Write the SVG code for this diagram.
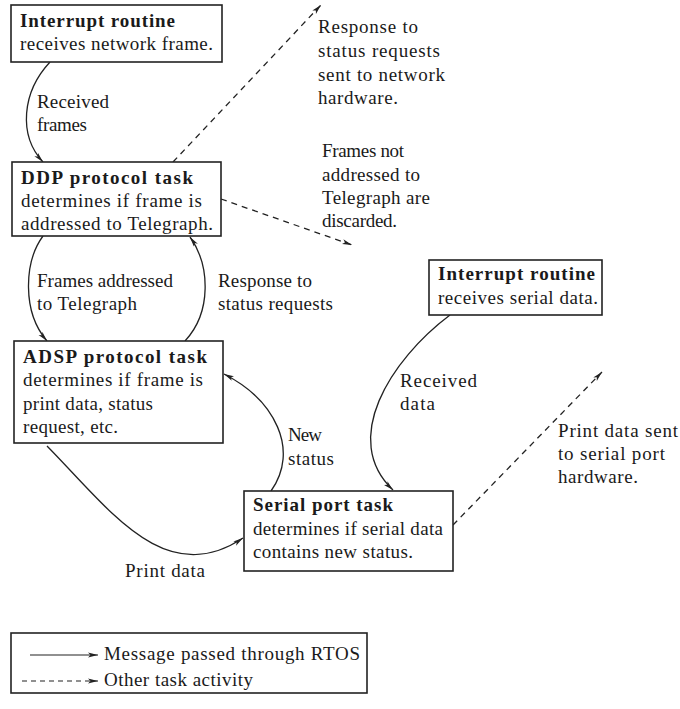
<svg xmlns="http://www.w3.org/2000/svg" width="680" height="709" viewBox="0 0 680 709" font-family="Liberation Serif, DejaVu Serif, serif">
  <style>
    text { font-size: 19px; fill: #1a1a1a; }
    .lbl { font-size: 19px; }
    .b { font-weight: bold; font-size: 19px; }
    .box { fill: #ffffff; stroke: #222; stroke-width: 1.6; }
    .msg { fill: none; stroke: #222; stroke-width: 1.3; marker-end: url(#ah); }
    .act { fill: none; stroke: #222; stroke-width: 1.3; stroke-dasharray: 6 5; marker-end: url(#ah); }
  </style>
  <defs>
    <marker id="ah" viewBox="0 0 10 6" refX="10" refY="3" markerWidth="10" markerHeight="6" markerUnits="userSpaceOnUse" orient="auto">
      <path d="M0,0.5 L10,3 L0,5.5 L2.5,3 Z" fill="#222"/>
    </marker>
  </defs>
  <rect width="680" height="709" fill="#ffffff"/>

  <!-- connectors -->
  <g id="connectors">
    <path class="msg" d="M50,62 C22,92 18,135 43,162"/>
    <path class="act" d="M173,162 L321,5"/>
    <path class="act" d="M221,199 L352,245"/>
    <path class="msg" d="M43,236 C24,262 22,312 47,341"/>
    <path class="msg" d="M185,341 C212,312 210,265 190,237"/>
    <path class="msg" d="M271,491 C300,450 275,400 224,374"/>
    <path class="msg" d="M47,446 C110,510 165,590 243,538"/>
    <path class="msg" d="M450,315 C390,360 340,440 393,490"/>
    <path class="act" d="M453,525 L602,372"/>
  </g>

  <!-- connector labels -->
  <g id="labels">
    <text class="lbl" x="37" y="108" textLength="72">Received</text>
    <text class="lbl" x="37" y="131" textLength="50">frames</text>
    <text class="lbl" x="318" y="33" textLength="100">Response to</text>
    <text class="lbl" x="318" y="57" textLength="122">status requests</text>
    <text class="lbl" x="318" y="81" textLength="127">sent to network</text>
    <text class="lbl" x="318" y="104" textLength="80">hardware.</text>
    <text class="lbl" x="322" y="157" textLength="82">Frames not</text>
    <text class="lbl" x="322" y="181" textLength="98">addressed to</text>
    <text class="lbl" x="322" y="204" textLength="108">Telegraph are</text>
    <text class="lbl" x="322" y="227" textLength="75">discarded.</text>
    <text class="lbl" x="37" y="287" textLength="136">Frames addressed</text>
    <text class="lbl" x="37" y="310" textLength="100">to Telegraph</text>
    <text class="lbl" x="218" y="287" textLength="94">Response to</text>
    <text class="lbl" x="218" y="310" textLength="115">status requests</text>
    <text class="lbl" x="288" y="441" textLength="34">New</text>
    <text class="lbl" x="288" y="465" textLength="46">status</text>
    <text class="lbl" x="400" y="387" textLength="77">Received</text>
    <text class="lbl" x="400" y="410" textLength="35">data</text>
    <text class="lbl" x="558" y="437" textLength="120">Print data sent</text>
    <text class="lbl" x="558" y="460" textLength="107">to serial port</text>
    <text class="lbl" x="558" y="483" textLength="80">hardware.</text>
    <text class="lbl" x="125" y="577" textLength="80">Print data</text>
  </g>

  <g id="net-interrupt">
    <rect class="box" x="11" y="5" width="211" height="57"/>
    <text class="b" x="20" y="27" textLength="155">Interrupt routine</text>
    <text x="20" y="50" textLength="193">receives network frame.</text>
  </g>

  <g id="ddp-task">
    <rect class="box" x="12" y="162" width="209" height="74"/>
    <text class="b" x="21" y="184" textLength="172">DDP protocol task</text>
    <text x="21" y="207" textLength="181">determines if frame is</text>
    <text x="21" y="230" textLength="192">addressed to Telegraph.</text>
  </g>

  <g id="adsp-task">
    <rect class="box" x="14" y="341" width="209" height="102"/>
    <text class="b" x="23" y="363" textLength="184">ADSP protocol task</text>
    <text x="23" y="386" textLength="180">determines if frame is</text>
    <text x="23" y="410" textLength="130">print data, status</text>
    <text x="23" y="433" textLength="95">request, etc.</text>
  </g>

  <g id="serial-interrupt">
    <rect class="box" x="429" y="260" width="173" height="55"/>
    <text class="b" x="438" y="280" textLength="157">Interrupt routine</text>
    <text x="438" y="304" textLength="160">receives serial data.</text>
  </g>

  <g id="serial-task">
    <rect class="box" x="244" y="491" width="209" height="80"/>
    <text class="b" x="253" y="511" textLength="140">Serial port task</text>
    <text x="253" y="535" textLength="190">determines if serial data</text>
    <text x="253" y="558" textLength="160">contains new status.</text>
  </g>

  <g id="legend">
    <rect class="box" x="11" y="633" width="356" height="60"/>
    <line x1="30" y1="655" x2="98" y2="655" stroke="#222" stroke-width="1.2" marker-end="url(#ah)"/>
    <line x1="22" y1="681" x2="98" y2="681" stroke="#222" stroke-width="1.2" stroke-dasharray="5 4" marker-end="url(#ah)"/>
    <text x="104" y="660" textLength="256">Message passed through RTOS</text>
    <text x="104" y="686" textLength="149">Other task activity</text>
  </g>
</svg>
